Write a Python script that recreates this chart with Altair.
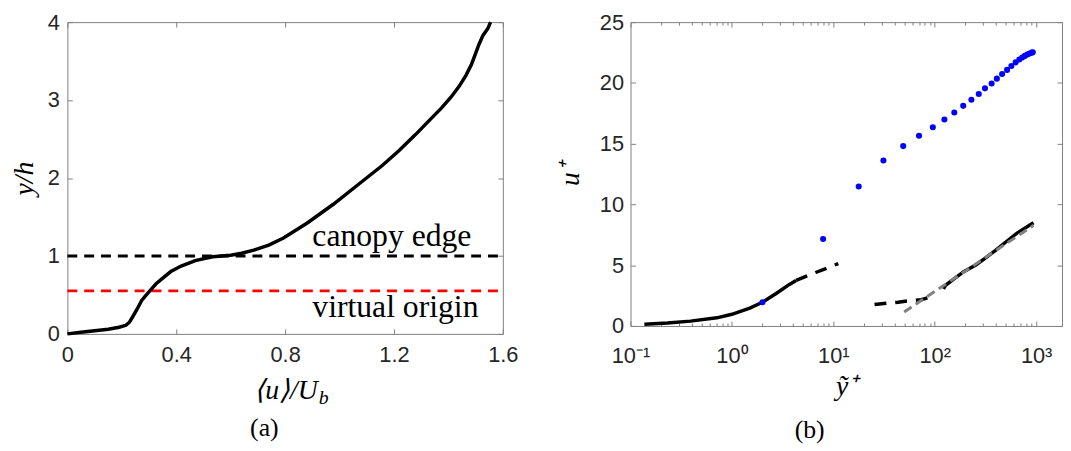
import altair as alt
import pandas as pd

# ---------------- data: panel (a) ----------------
a_u = [0.0, 0.05, 0.10, 0.15, 0.19, 0.215, 0.228, 0.24, 0.255, 0.273, 0.29, 0.303,
       0.325, 0.345, 0.38, 0.418, 0.47, 0.533, 0.60, 0.64, 0.685, 0.74, 0.794, 0.88,
       0.976, 1.07, 1.157, 1.218, 1.28, 1.33, 1.375, 1.41, 1.44, 1.465, 1.485,
       1.50, 1.513, 1.527, 1.545, 1.555]
a_y = [0.0, 0.02, 0.04, 0.06, 0.085, 0.11, 0.15, 0.22, 0.31, 0.43, 0.50, 0.552,
       0.64, 0.70, 0.80, 0.87, 0.94, 0.99, 1.01, 1.035, 1.075, 1.14, 1.23, 1.42,
       1.66, 1.92, 2.16, 2.35, 2.56, 2.74, 2.90, 3.04, 3.18, 3.32, 3.46,
       3.60, 3.72, 3.83, 3.92, 4.0]
h_line_x = [0.0, 1.6]
canopy_edge_y = 1.0
virtual_origin_y = 0.552
note_text = ["canopy edge", "virtual origin"]
note_x = [0.9, 0.9]
note_y = [1.25, 0.35]
a_xticks = [0, 0.4, 0.8, 1.2, 1.6]
a_yticks = [0, 1, 2, 3, 4]

# ---------------- data: panel (b) ----------------
dot_y = [2.0, 7.93, 17.8, 31.2, 48.9, 70.0, 95.8, 124.6, 156, 191, 230, 272, 313,
         364, 410, 462, 517, 570, 628, 683, 730, 774, 817, 860, 906, 927]
dot_u = [1.95, 7.16, 11.48, 13.62, 14.80, 15.65, 16.35, 16.99, 17.57, 18.11, 18.61,
         19.09, 19.55, 19.95, 20.35, 20.73, 21.07, 21.39, 21.69, 21.93, 22.09, 22.22,
         22.33, 22.41, 22.49, 22.52]
solid_in_y = [0.137, 0.231, 0.39, 0.71, 1.0, 1.5, 2.0, 2.73, 3.69, 4.3]
solid_in_u = [0.14, 0.24, 0.40, 0.67, 0.96, 1.47, 1.95, 2.67, 3.42, 3.75]
dash_in_y = [4.3, 6.7, 11.2]
dash_in_u = [3.75, 4.4, 5.13]
dash_out_y = [25.5, 33.6, 43.6, 56.8, 73.8, 98.0]
dash_out_u = [1.76, 1.87, 1.95, 2.08, 2.16, 2.48]
solid_out_y = [122, 128, 156, 195, 254, 306, 398, 499, 648, 942]
solid_out_u = [3.05, 3.35, 3.90, 4.49, 5.02, 5.50, 6.22, 6.89, 7.64, 8.49]
loglaw_y = [50, 942]
loglaw_u = [1.15, 8.28]
b_xticks = [0.1, 1, 10, 100, 1000]
b_xminor = [m * d for d in [0.1, 1, 10, 100] for m in range(2, 10)]
b_yticks = [0, 5, 10, 15, 20, 25]

# ---------------- style ----------------
SANS = "Liberation Sans"
SERIF = "Liberation Serif"
SPINE = "#7f7f7f"
LAB = "#262626"


def axis(orient, values, labels=True, size=5, **kw):
    opts = dict(orient=orient, values=values, domain=False, grid=False, ticks=True,
                tickSize=size, offset=-size, tickColor=SPINE, tickWidth=1,
                labels=labels)
    if labels:
        opts.update(labelFont=SANS, labelFontSize=22, labelColor=LAB,
                    labelFlush=False, labelOverlap=False)
    opts.update(kw)
    if "title" not in opts:
        opts["title"] = None
    return alt.Axis(**opts)


TITLE_KW = dict(titleFont=SERIF, titleFontStyle="italic", titleFontWeight="normal",
                titleFontSize=28, titleColor="black")

# ---------------- panel (a) ----------------
WA, HA = 440, 315
xs_a = alt.Scale(domain=[0, 1.6], nice=False, zero=False)
ys_a = alt.Scale(domain=[0, 4], nice=False, zero=False)

df_a = pd.DataFrame({"u": a_u, "y": a_y, "i": range(len(a_u))})
df_edge = pd.DataFrame({"u": h_line_x, "y": [canopy_edge_y] * 2})
df_orig = pd.DataFrame({"u": h_line_x, "y": [virtual_origin_y] * 2})
df_note = pd.DataFrame({"u": note_x, "y": note_y, "t": note_text})

red = alt.Chart(df_orig).mark_line(color="#ff0000", strokeWidth=3, strokeDash=[10, 7]).encode(
    x=alt.X("u:Q", scale=xs_a, axis=None),
    y=alt.Y("y:Q", scale=ys_a, axis=None),
)
edge = alt.Chart(df_edge).mark_line(color="black", strokeWidth=3, strokeDash=[10, 7]).encode(
    x=alt.X("u:Q", scale=xs_a, axis=axis("top", a_xticks, labels=False)),
    y=alt.Y("y:Q", scale=ys_a, axis=axis("right", a_yticks, labels=False)),
)
curve = alt.Chart(df_a).mark_line(color="black", strokeWidth=3.5).encode(
    x=alt.X("u:Q", scale=xs_a,
            axis=axis("bottom", a_xticks, labelPadding=11,
                      labelExpr="datum.value == 0 ? '0' : format(datum.value, '.1f')")),
    y=alt.Y("y:Q", scale=ys_a,
            axis=axis("left", a_yticks, labelPadding=8, format="d", title="y/h",
                      titlePadding=9, **TITLE_KW)),
    order="i:Q",
)
notes = alt.Chart(df_note).mark_text(align="left", baseline="middle", font=SERIF,
                                     fontSize=32, color="black").encode(
    x=alt.X("u:Q", scale=xs_a, axis=None),
    y=alt.Y("y:Q", scale=ys_a, axis=None),
    text="t:N",
)
xt_main = alt.Chart(pd.DataFrame({"t": ["⟨u⟩/U"]})).mark_text(
    align="right", baseline="alphabetic", font=SERIF, fontStyle="italic", fontSize=28,
    color="black").encode(x=alt.value(253), y=alt.value(381), text="t:N")
xt_sub = alt.Chart(pd.DataFrame({"t": ["b"]})).mark_text(
    align="left", baseline="alphabetic", font=SERIF, fontStyle="italic", fontSize=20,
    color="black").encode(x=alt.value(254), y=alt.value(386), text="t:N")

panel_a = alt.layer(red, edge, curve, notes, xt_main, xt_sub).resolve_axis(
    x="independent", y="independent"
).properties(
    width=WA, height=HA,
    title=alt.TitleParams("(a)", orient="bottom", anchor="middle", frame="bounds",
                          font=SERIF, fontSize=26, fontWeight="normal", color="black",
                          offset=7),
)

# ---------------- panel (b) ----------------
WB, HB = 436, 307
xs_b = alt.Scale(type="log", domain=[0.1, 1800], nice=False)
ys_b = alt.Scale(domain=[0, 25], nice=False, zero=False)

solid_rows = ([{"y": a, "u": b, "s": "in", "i": k} for k, (a, b) in enumerate(zip(solid_in_y, solid_in_u))]
              + [{"y": a, "u": b, "s": "out", "i": k} for k, (a, b) in enumerate(zip(solid_out_y, solid_out_u))])
dash_rows = ([{"y": a, "u": b, "s": "in", "i": k} for k, (a, b) in enumerate(zip(dash_in_y, dash_in_u))]
             + [{"y": a, "u": b, "s": "out", "i": k} for k, (a, b) in enumerate(zip(dash_out_y, dash_out_u))])
df_solid = pd.DataFrame(solid_rows)
df_dash = pd.DataFrame(dash_rows)
df_log = pd.DataFrame({"y": loglaw_y, "u": loglaw_u})
df_dots = pd.DataFrame({"y": dot_y, "u": dot_u})

log_labels = ("datum.value < 0.5 ? '10⁻¹' : datum.value < 5 ? '10⁰' : "
              "datum.value < 50 ? '10¹' : datum.value < 500 ? '10²' : '10³'")

solid = alt.Chart(df_solid).mark_line(color="black", strokeWidth=3.5).encode(
    x=alt.X("y:Q", scale=xs_b,
            axis=axis("bottom", b_xticks, labelPadding=20, labelExpr=log_labels,
                      title="ỹ⁺", titlePadding=6, **TITLE_KW)),
    y=alt.Y("u:Q", scale=ys_b,
            axis=axis("left", b_yticks, labelPadding=7, format="d", title="u⁺",
                      titlePadding=15, **TITLE_KW)),
    detail="s:N",
    order="i:Q",
)
dashed = alt.Chart(df_dash).mark_line(color="black", strokeWidth=3.5, strokeDash=[12, 9]).encode(
    x=alt.X("y:Q", scale=xs_b, axis=axis("top", b_xticks, labels=False)),
    y=alt.Y("u:Q", scale=ys_b, axis=axis("right", b_yticks, labels=False)),
    detail="s:N",
    order="i:Q",
)
loglaw = alt.Chart(df_log).mark_line(color="#808080", strokeWidth=3, strokeDash=[9, 5]).encode(
    x=alt.X("y:Q", scale=xs_b, axis=axis("bottom", b_xminor, labels=False, size=3)),
    y=alt.Y("u:Q", scale=ys_b, axis=None),
)
dots = alt.Chart(df_dots).mark_circle(color="#0000ff", size=38, opacity=1).encode(
    x=alt.X("y:Q", scale=xs_b, axis=axis("top", b_xminor, labels=False, size=3)),
    y=alt.Y("u:Q", scale=ys_b, axis=None),
)

panel_b = alt.layer(solid, dashed, loglaw, dots).resolve_axis(
    x="independent", y="independent"
).properties(
    width=WB, height=HB,
    title=alt.TitleParams("(b)", orient="bottom", anchor="middle", frame="bounds",
                          font=SERIF, fontSize=26, fontWeight="normal", color="black",
                          offset=17),
)

chart = alt.hconcat(panel_a, panel_b, spacing=38).properties(
    padding={"left": 2, "top": 0, "right": 0, "bottom": 0},
    background="white",
).configure_view(stroke=SPINE, strokeWidth=1)

chart.save("out.html", embed_options={"renderer": "svg", "actions": False})
